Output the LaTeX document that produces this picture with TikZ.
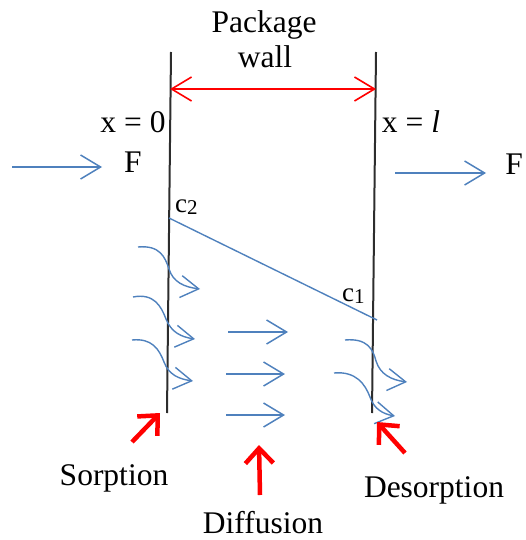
\documentclass[tikz,border=0pt]{standalone}
\usepackage{fontspec}
\setmainfont{Liberation Serif}
\usetikzlibrary{arrows.meta}
\definecolor{lineblue}{RGB}{79,129,189}
\definecolor{wallgray}{RGB}{45,45,45}
\definecolor{arrowred}{RGB}{255,0,0}
\begin{document}
\begin{tikzpicture}[x=1pt,y=-1pt,
 lbl/.style={inner sep=0pt, anchor=base, font=\fontsize{31.5}{36}\selectfont},
 clbl/.style={inner sep=0pt, anchor=base west, font=\fontsize{27}{30}\selectfont},
 wall/.style={draw=wallgray, line width=2pt},
 flow/.style={draw=lineblue, line width=1.5pt, -{Straight Barb[length=20pt,width=24pt]}},
 wave/.style={draw=lineblue, line width=1.4pt, -{Straight Barb[length=18pt,width=22pt]}},
 grad/.style={draw=lineblue, line width=1.4pt},
 dim/.style={draw=arrowred, line width=1.6pt, {Straight Barb[length=20pt,width=24pt]}-{Straight Barb[length=20pt,width=24pt]}},
 pointer/.style={draw=arrowred, line width=4.5pt, -{Straight Barb[length=15pt,width=28pt]}},
]
\useasboundingbox (0,0) rectangle (525,540);

% walls
\coordinate (lw1) at (171,52);
\coordinate (lw2) at (167,413);
\coordinate (rw1) at (376,52);
\coordinate (rw2) at (372,413);
\draw[wall] (lw1) -- (lw2);
\draw[wall] (rw1) -- (rw2);

% dimension arrow
\coordinate (dimL) at (170,89);
\coordinate (dimR) at (376,89);
\draw[dim] (dimL) -- (dimR);

% labels
\node[lbl] (pkg) at (264,33) {Package};
\node[lbl] (wl) at (265,68) {wall};
\node[lbl] (x0) at (133,133) {x = 0};
\node[lbl] (xl) at (411,133) {x = \textit{l}};
\node[lbl] (Fl) at (133,172) {F};
\node[lbl] (Fr) at (514,175) {F};
\node[clbl] (c2) at (175,212) {c\raisebox{-2.5pt}{\fontsize{21}{21}\selectfont 2}};
\node[clbl] (c1) at (342,301) {c\raisebox{-2.5pt}{\fontsize{21}{21}\selectfont 1}};
\node[lbl] (sorp) at (114,485) {Sorption};
\node[lbl] (diff) at (263,533) {Diffusion};
\node[lbl] (desorp) at (434,497) {Desorption};

% flux arrows
\coordinate (fl1) at (12,167);
\coordinate (fl2) at (102,167);
\draw[flow] (fl1) -- (fl2);
\coordinate (fr1) at (395,173);
\coordinate (fr2) at (486,173);
\draw[flow] (fr1) -- (fr2);

% concentration gradient
\coordinate (g1) at (169,218);
\coordinate (g2) at (377,320);
\draw[grad] (g1) -- (g2);

% diffusion arrows
\coordinate (d1a) at (228,332); \coordinate (d1b) at (288,332);
\coordinate (d2a) at (226,374); \coordinate (d2b) at (285,374);
\coordinate (d3a) at (226,415); \coordinate (d3b) at (285,415);
\draw[flow] (d1a) -- (d1b);
\draw[flow] (d2a) -- (d2b);
\draw[flow] (d3a) -- (d3b);

% sorption wavy arrows
\coordinate (s1a) at (138,247); \coordinate (s1b) at (200,289);
\coordinate (s2a) at (133,297); \coordinate (s2b) at (195,339);
\coordinate (s3a) at (132,340); \coordinate (s3b) at (193,381);
\draw[wave] (s1a) .. controls (160,245) and (165,257) .. (169,269) .. controls (173,282) and (184,287) .. (s1b);
\draw[wave] (s2a) .. controls (154,293) and (161,306) .. (166,319) .. controls (171,332) and (181,337) .. (s2b);
\draw[wave] (s3a) .. controls (152,338) and (159,349) .. (164,362) .. controls (169,375) and (179,379) .. (s3b);

% desorption wavy arrows
\coordinate (r1a) at (345,340); \coordinate (r1b) at (407,382);
\coordinate (r2a) at (334,373); \coordinate (r2b) at (395,416);
\draw[wave] (r1a) .. controls (367,338) and (373,349) .. (376,361) .. controls (380,374) and (391,380) .. (r1b);
\draw[wave] (r2a) .. controls (356,371) and (365,384) .. (370,397) .. controls (374,409) and (383,414) .. (r2b);

% red pointers
\coordinate (ps1) at (132,442); \coordinate (ps2) at (160,413);
\coordinate (pd1) at (260,495); \coordinate (pd2) at (259,445);
\coordinate (pe1) at (405,453); \coordinate (pe2) at (377,422);
\draw[pointer] (ps1) -- (ps2);
\draw[pointer] (pd1) -- (pd2);
\draw[pointer] (pe1) -- (pe2);
\end{tikzpicture}
\end{document}
